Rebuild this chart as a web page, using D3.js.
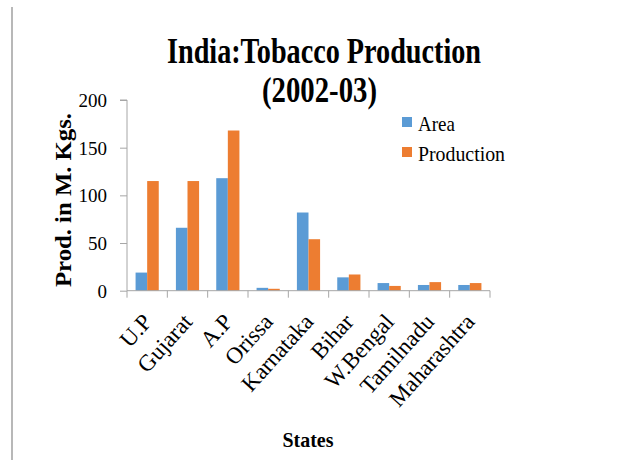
<!DOCTYPE html>
<html>
<head>
<meta charset="utf-8">
<script src="https://cdn.jsdelivr.net/npm/d3@7"></script>
<style>
  html, body { margin: 0; padding: 0; background: #fff; }
  svg { display: block; }
  .serif { font-family: "Liberation Serif", "DejaVu Serif", Times, serif; }
</style>
</head>
<body>
<svg id="chart" width="625" height="463"></svg>
<script>
// ---- data ----
const states = ["U.P", "Gujarat", "A.P", "Orissa", "Karnataka", "Bihar", "W.Bengal", "Tamilnadu", "Maharashtra"];
const seriesNames = ["Area", "Production"];
const areaValues = [19, 66, 118, 3, 82, 14, 8, 6, 6];
const productionValues = [115, 115, 168, 2, 54, 17, 5, 9, 8];
const yTickValues = [0, 50, 100, 150, 200];
const titleLines = ["India:Tobacco  Production", "(2002-03)"];
const yAxisTitle = "Prod. in M. Kgs.";
const xAxisTitle = "States";

const colors = { "Area": "#5b9bd5", "Production": "#ed7d31" };
const axisColor = "#a6a6a6";

const svg = d3.select("#chart");

// left border line
svg.append("line")
  .attr("x1", 12).attr("x2", 12).attr("y1", 7).attr("y2", 460)
  .attr("stroke", "#a0a0a0").attr("stroke-width", 1.5);

const plot = { left: 127, right: 490, top: 100, bottom: 290.7 };

const x0 = d3.scaleBand().domain(states).range([plot.left, plot.right]).padding(0);
const x1 = d3.scaleBand().domain(seriesNames).range([0, x0.bandwidth()]).paddingInner(0).paddingOuter(0.74);
const y = d3.scaleLinear().domain([0, 200]).range([plot.bottom, plot.top]);

const table = states.map((s, i) => ({ state: s, values: [
  { key: "Area", value: areaValues[i] },
  { key: "Production", value: productionValues[i] }
]}));

// bars
const groups = svg.append("g").selectAll("g").data(table).join("g")
  .attr("transform", d => `translate(${x0(d.state)},0)`);
groups.selectAll("rect").data(d => d.values).join("rect")
  .attr("x", d => x1(d.key))
  .attr("width", x1.bandwidth())
  .attr("y", d => y(d.value))
  .attr("height", d => y(0) - y(d.value))
  .attr("fill", d => colors[d.key]);

// y axis
const yAxis = svg.append("g").attr("transform", `translate(${plot.left},0)`)
  .call(d3.axisLeft(y).tickValues(yTickValues).tickSize(7).tickPadding(13).tickFormat(d3.format("d")));
yAxis.attr("font-family", null).attr("font-size", null);
yAxis.select(".domain").attr("stroke", axisColor).attr("d", `M-7,${y(200)}H0V${y(0)}`);
yAxis.selectAll(".tick line").attr("stroke", axisColor);
yAxis.selectAll(".tick text")
  .attr("class", "serif").attr("font-size", 19).attr("fill", "#000")
  .attr("dy", "0.34em");

// x axis baseline and boundary ticks
const xAxisG = svg.append("g");
xAxisG.append("line")
  .attr("x1", plot.left).attr("x2", plot.right)
  .attr("y1", y(0)).attr("y2", y(0))
  .attr("stroke", axisColor);
const boundaries = states.map(s => x0(s)).concat([x0.range()[1]]);
xAxisG.selectAll("line.tk").data(boundaries).join("line")
  .attr("class", "tk")
  .attr("x1", d => d).attr("x2", d => d)
  .attr("y1", y(0)).attr("y2", y(0) + 7)
  .attr("stroke", axisColor);

// x labels (rotated)
xAxisG.selectAll("text.xl").data(states).join("text")
  .attr("class", "xl serif")
  .attr("transform", d => `translate(${x0(d) + x0.bandwidth() / 2 + 6},${y(0) + 32}) rotate(-48)`)
  .attr("text-anchor", "end")
  .attr("font-size", 23).attr("fill", "#000")
  .text(d => d);

// title
svg.append("text")
  .attr("class", "serif")
  .attr("x", 167).attr("y", 63)
  .attr("font-weight", "bold").attr("font-size", 35)
  .attr("textLength", 314).attr("lengthAdjust", "spacingAndGlyphs")
  .text(titleLines[0]);
svg.append("text")
  .attr("class", "serif")
  .attr("x", 262).attr("y", 102)
  .attr("font-weight", "bold").attr("font-size", 35)
  .attr("textLength", 115).attr("lengthAdjust", "spacingAndGlyphs")
  .text(titleLines[1]);

// y axis title
svg.append("text")
  .attr("class", "serif")
  .attr("transform", `translate(71,${200}) rotate(-90)`)
  .attr("text-anchor", "middle")
  .attr("font-weight", "bold").attr("font-size", 23)
  .attr("textLength", 174).attr("lengthAdjust", "spacingAndGlyphs")
  .text(yAxisTitle);

// x axis title
svg.append("text")
  .attr("class", "serif")
  .attr("x", 308).attr("y", 447)
  .attr("text-anchor", "middle")
  .attr("font-weight", "bold").attr("font-size", 22)
  .attr("textLength", 51).attr("lengthAdjust", "spacingAndGlyphs")
  .text(xAxisTitle);

// legend
const legend = svg.append("g");
const legendRows = seriesNames.map((s, i) => ({ name: s, y: 117 + i * 30, len: [37, 87][i] }));
legend.selectAll("rect").data(legendRows).join("rect")
  .attr("x", 402).attr("y", d => d.y).attr("width", 10).attr("height", 10)
  .attr("fill", d => colors[d.name]);
legend.selectAll("text").data(legendRows).join("text")
  .attr("class", "serif")
  .attr("x", 418).attr("y", d => d.y + 14)
  .attr("font-size", 21).attr("fill", "#000")
  .attr("textLength", d => d.len).attr("lengthAdjust", "spacingAndGlyphs")
  .text(d => d.name);
</script>
</body>
</html>
